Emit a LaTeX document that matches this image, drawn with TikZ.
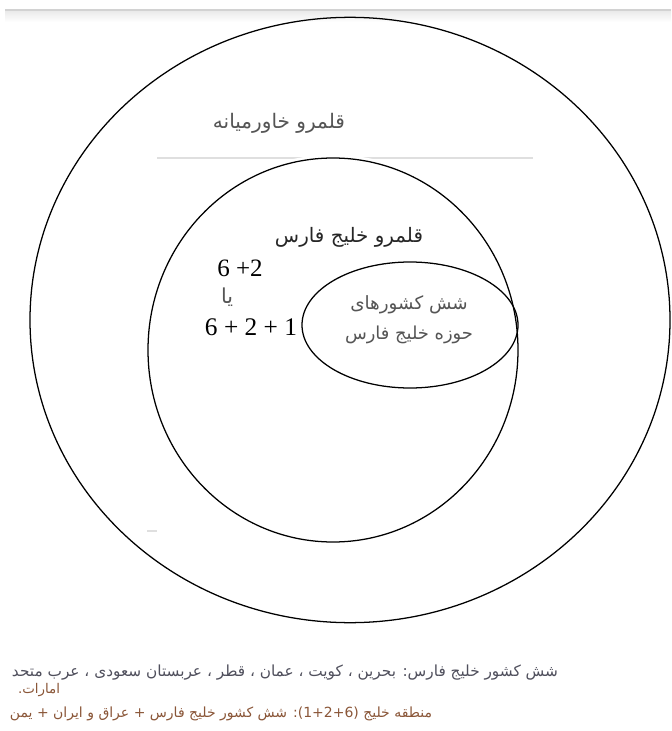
\documentclass[tikz,border=0pt]{standalone}
\usepackage{fontspec}
\usepackage{graphicx}
\usetikzlibrary{shapes.geometric}
\TeXXeTstate=1
\newfontfamily\arabicfont[Script=Arabic]{DejaVu Sans}
\newfontfamily\numfont{Liberation Serif}
\definecolor{titlegray}{HTML}{555555}
\definecolor{notegray}{HTML}{4F4F5C}
\definecolor{notebrown}{HTML}{8A5638}
\tikzset{
  ring/.style={ellipse, draw=black, line width=0.95pt, inner sep=0pt},
  label/.style={inner sep=0pt, outer sep=0pt},
  faint/.style={draw=gray!25, line width=0.8pt}
}
\begin{document}
\begin{tikzpicture}[x=0.75pt,y=-0.75pt]
\useasboundingbox (0,0) rectangle (671,731);
% top shadow band
\shade[top color=gray!18, bottom color=white] (5,10) rectangle (671,22);
\coordinate (sa) at (5,10);
\coordinate (sb) at (671,10);
\draw[draw=gray!35, line width=0.8pt] (sa) -- (sb);
% faint horizontal line
\coordinate (hl) at (157,158);
\coordinate (hr) at (533,158);
\draw[faint] (hl) -- (hr);
\coordinate (dl) at (147,531);
\coordinate (dr) at (157,531);
\draw[faint] (dl) -- (dr);
% rings
\node[ring, minimum width=480pt, minimum height=454pt] (outer) at (350,320) {};
\node[ring, minimum width=277.5pt, minimum height=288pt, preaction={draw=white, line width=5pt}] (middle) at (333,350) {};
\node[ring, minimum width=162pt, minimum height=94.5pt] (inner) at (410,325) {};
% labels
\node[label, text=titlegray] (tmid) at (279,123) {\resizebox{99pt}{!}{\arabicfont\beginR قلمرو خاورمیانه\endR}};
\node[label, text=black!85] (tgulf) at (349,237) {\resizebox{111pt}{!}{\arabicfont\beginR قلمرو خلیج فارس\endR}};
\node[label, text=titlegray] (tin1) at (409,305) {\resizebox{88pt}{!}{\arabicfont\beginR شش کشورهای\endR}};
\node[label, text=titlegray] (tin2) at (409,335) {\resizebox{96pt}{!}{\arabicfont\beginR حوزه خلیج فارس\endR}};
\node[label, text=black] (n1) at (240,268) {\resizebox{34pt}{!}{\numfont 6 +2}};
\node[label, text=titlegray] (ya) at (227,297) {\resizebox{9pt}{!}{\arabicfont\beginR یا\endR}};
\node[label, text=black] (n2) at (251,327) {\resizebox{69pt}{!}{\numfont 6 + 2 + 1}};
% notes
\node[label, anchor=west, text=notegray] (note1) at (12,673) {\resizebox{409.5pt}{!}{\arabicfont\beginR شش کشور خلیج فارس\kern0pt{}: بحرین ، کویت ، عمان ، قطر ، عربستان سعودی ، عرب متحد\endR}};
\node[label, anchor=west, text=notebrown] (note2) at (18,690) {\resizebox{31.5pt}{!}{\arabicfont\beginR امارات\kern0pt{}.\endR}};
\node[label, anchor=west, text=notebrown] (note3) at (10,714) {\resizebox{316.5pt}{!}{\arabicfont\beginR منطقه خلیج \beginL(1+2+6)\endL\kern0pt{}: شش کشور خلیج فارس + عراق و ایران + یمن\endR}};
\end{tikzpicture}
\end{document}
